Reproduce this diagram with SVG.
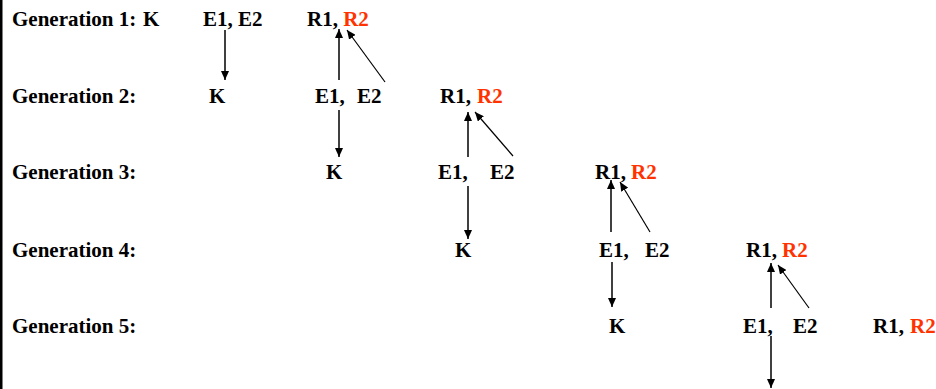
<svg xmlns="http://www.w3.org/2000/svg" width="936" height="389" viewBox="0 0 936 389">
<style>
text{font-family:'Liberation Serif',Tinos,'DejaVu Serif',serif;font-weight:700;font-size:21px;fill:#000}
.red{fill:#ff3300}
.c line{stroke:#000;stroke-width:1.5;fill:none}
</style>
<defs>
<marker id="ah" markerUnits="userSpaceOnUse" markerWidth="10" markerHeight="8" refX="9" refY="4" orient="auto">
<path d="M0,0 L9,4 L0,8 z" fill="#000"/>
</marker>
</defs>
<rect x="0" y="0" width="2.5" height="389" fill="#000"/>
<g id="labels" font-family="Liberation Serif, serif">
<text x="12" y="25.5">Generation 1:</text>
<text x="12" y="102.5">Generation 2:</text>
<text x="12" y="179">Generation 3:</text>
<text x="12" y="256.5">Generation 4:</text>
<text x="12" y="333">Generation 5:</text>
</g>
<g id="g1-K"><text x="143" y="25.5">K</text></g>
<g id="g1-E"><text x="203" y="25.5">E1, E2</text></g>
<g id="g1-R"><text x="307" y="25.5">R1, <tspan class="red">R2</tspan></text></g>
<g id="g2-K"><text x="209" y="102.5">K</text></g>
<g id="g2-E"><text x="315" y="102.5">E1,<tspan x="357">E2</tspan></text></g>
<g id="g2-R"><text x="440" y="102.5">R1,<tspan class="red" x="477">R2</tspan></text></g>
<g id="g3-K"><text x="326" y="179">K</text></g>
<g id="g3-E"><text x="438" y="179">E1,<tspan x="490">E2</tspan></text></g>
<g id="g3-R"><text x="595" y="179">R1,<tspan class="red" x="631">R2</tspan></text></g>
<g id="g4-K"><text x="455" y="256.5">K</text></g>
<g id="g4-E"><text x="599" y="256.5">E1,<tspan x="645">E2</tspan></text></g>
<g id="g4-R"><text x="746" y="256.5">R1,<tspan class="red" x="782">R2</tspan></text></g>
<g id="g5-K"><text x="609" y="333">K</text></g>
<g id="g5-E"><text x="743" y="333">E1,<tspan x="793">E2</tspan></text></g>
<g id="g5-R"><text x="873" y="333">R1,<tspan class="red" x="910">R2</tspan></text></g>
<g id="connectors" class="c">
<line x1="225" y1="30" x2="225" y2="80" marker-end="url(#ah)"/>
<line x1="339" y1="80" x2="339" y2="29" marker-end="url(#ah)"/>
<line x1="385" y1="82" x2="347" y2="30" marker-end="url(#ah)" style="stroke-width:1.2"/>
<line x1="339" y1="110" x2="339" y2="157" marker-end="url(#ah)"/>
<line x1="468" y1="157" x2="468" y2="112" marker-end="url(#ah)"/>
<line x1="513" y1="156" x2="475" y2="112" marker-end="url(#ah)" style="stroke-width:1.2"/>
<line x1="468" y1="186" x2="468" y2="239" marker-end="url(#ah)"/>
<line x1="611" y1="232" x2="611" y2="180" marker-end="url(#ah)"/>
<line x1="650" y1="232" x2="620" y2="182" marker-end="url(#ah)" style="stroke-width:1.2"/>
<line x1="612" y1="262" x2="612" y2="307" marker-end="url(#ah)"/>
<line x1="771" y1="308" x2="771" y2="263" marker-end="url(#ah)"/>
<line x1="809" y1="308" x2="778" y2="265" marker-end="url(#ah)" style="stroke-width:1.2"/>
<line x1="771" y1="336" x2="771" y2="388" marker-end="url(#ah)"/>
</g>
</svg>
